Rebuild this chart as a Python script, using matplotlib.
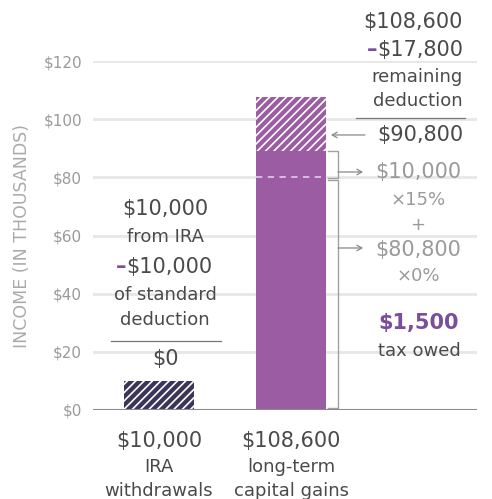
import matplotlib
matplotlib.use("Agg")
import matplotlib.pyplot as plt

# -------------------------------
# Data (values in thousands of dollars, bar heights)
# -------------------------------
categories = ["IRA withdrawals", "long-term capital gains"]
bar_labels = [["$10,000", "IRA", "withdrawals"],
              ["$108,600", "long-term", "capital gains"]]
ira_income = 10.0
gains_total = 107.6
gains_taxable = 89.2
bracket_15 = 80.0
yticks = [0, 20, 40, 60, 80, 100, 120]
ytick_labels = ["$0", "$20", "$40", "$60", "$80", "$100", "$120"]

# colours
NAVY = "#3b3659"
PURPLE = "#9b5ca4"
ACCENT = "#7b4d9c"
DARK = "#4a4a4a"
LIGHT = "#9a9a9a"
GRID = "#e8e6e6"

plt.rcParams["font.family"] = ["DejaVu Sans"]
plt.rcParams["hatch.linewidth"] = 1.2

fig = plt.figure(figsize=(4.92, 4.99), dpi=100)
# axes placed so that y=0 sits at 410px and y=120 at 61px from top
ax = fig.add_axes([93 / 492, 89 / 499, 384 / 492, 349 / 499])
ax.set_xlim(-0.5, 2.409)
ax.set_ylim(0, 120)


def px(x):
    # pixel column -> data x
    return (x - 159) / 132.0


def py(y):
    # pixel row -> data y
    return (410 - y) / 2.908


# -------------------------------
# Grid and axes styling
# -------------------------------
for t in yticks[1:]:
    ax.axhline(t, color=GRID, lw=2, zorder=0)
ax.axhline(0, color="#8a8a8a", lw=1.5, zorder=3)
for s in ax.spines.values():
    s.set_visible(False)
ax.set_xticks([])
ax.set_yticks(yticks)
ax.set_yticklabels(ytick_labels, color=LIGHT, fontsize=11)
ax.tick_params(axis="y", length=0, pad=8)
ax.text(px(22), py(236), "INCOME (IN THOUSANDS)", rotation=90, ha="center",
        va="center", color="#ababab", fontsize=12.5, clip_on=False)

# -------------------------------
# Bars
# -------------------------------
w = 70 / 132.0
ax.bar(0, ira_income, width=w, color=NAVY, edgecolor="white", hatch="////",
       linewidth=0, zorder=2)
ax.bar(1, gains_taxable, width=w, color=PURPLE, linewidth=0, zorder=2)
ax.bar(1, gains_total - gains_taxable, bottom=gains_taxable, width=w,
       color=PURPLE, edgecolor="white", hatch="////", linewidth=0, zorder=2)
ax.plot([1 - w / 2, 1 + w / 2], [bracket_15, bracket_15], color="#dcc6e2",
        lw=1.3, ls=(0, (3.5, 3)), zorder=4)

# category labels under the bars
for i, lines in enumerate(bar_labels):
    ax.text(i, py(441), lines[0], ha="center", va="center", color=DARK,
            fontsize=15, clip_on=False)
    ax.text(i, py(467), lines[1], ha="center", va="center", color=DARK,
            fontsize=13, clip_on=False)
    ax.text(i, py(491), lines[2], ha="center", va="center", color=DARK,
            fontsize=13, clip_on=False)

# -------------------------------
# Left annotation (IRA)
# -------------------------------
lx = px(165)
ax.text(lx, py(209), "$10,000", ha="center", va="center", color=DARK, fontsize=15)
ax.text(lx, py(237), "from IRA", ha="center", va="center", color=DARK, fontsize=13)
t = ax.text(px(169), py(267), "$10,000", ha="center", va="center", color=DARK,
            fontsize=15)
ax.annotate("–", xy=(0, 0.5), xycoords=t, ha="right", va="center",
            color=ACCENT, fontsize=15, fontweight="bold")
ax.text(lx, py(295), "of standard", ha="center", va="center", color=DARK, fontsize=13)
ax.text(lx, py(320), "deduction", ha="center", va="center", color=DARK, fontsize=13)
ax.plot([px(111), px(221)], [py(341), py(341)], color="#777777", lw=0.9)
ax.text(lx, py(359), "$0", ha="center", va="center", color=DARK, fontsize=15)

# -------------------------------
# Right annotation (capital gains)
# -------------------------------
rx = px(463)
ax.text(rx, py(22), "$108,600", ha="right", va="center", color=DARK,
        fontsize=15, clip_on=False)
t = ax.text(rx, py(50), "$17,800", ha="right", va="center", color=DARK,
            fontsize=15, clip_on=False)
ax.annotate("–", xy=(0, 0.5), xycoords=t, ha="right", va="center",
            color=ACCENT, fontsize=15, fontweight="bold")
ax.text(rx, py(77), "remaining", ha="right", va="center", color=DARK,
        fontsize=13, clip_on=False)
ax.text(rx, py(101), "deduction", ha="right", va="center", color=DARK,
        fontsize=13, clip_on=False)
ax.plot([px(356), px(465)], [py(118), py(118)], color="#777777", lw=0.9)
ax.text(rx, py(135), "$90,800", ha="right", va="center", color=DARK, fontsize=15)
arrow = dict(arrowstyle="->,head_length=0.35,head_width=0.2", color="#888888",
             lw=0.9, shrinkA=0, shrinkB=0)
ax.annotate("", xy=(px(331), py(135)), xytext=(px(365), py(135)),
            arrowprops=arrow)

# brackets
bx = px(338)
tick = px(328)
ax.plot([tick, bx, bx, tick], [gains_taxable, gains_taxable, bracket_15 - 0.2,
        bracket_15 - 0.2], color="#a0a0a0", lw=1)
ax.plot([tick, bx, bx, tick], [bracket_15 - 1.0, bracket_15 - 1.0, 0.6, 0.6],
        color="#a0a0a0", lw=1)
ax.annotate("", xy=(px(363), py(172)), xytext=(bx, py(172)), arrowprops=arrow)
ax.annotate("", xy=(px(363), py(248)), xytext=(bx, py(248)), arrowprops=arrow)

cx = px(418)
ax.text(cx, py(172), "$10,000", ha="center", va="center", color=LIGHT, fontsize=15)
ax.text(cx, py(200), "×15%", ha="center", va="center", color=LIGHT, fontsize=13)
ax.text(cx, py(225), "+", ha="center", va="center", color=LIGHT, fontsize=13)
ax.text(cx, py(250), "$80,800", ha="center", va="center", color=LIGHT, fontsize=15)
ax.text(cx, py(276), "×0%", ha="center", va="center", color=LIGHT, fontsize=13)
ax.text(px(419), py(323), "$1,500", ha="center", va="center", color=ACCENT,
        fontsize=15, fontweight="bold")
ax.text(px(419), py(351), "tax owed", ha="center", va="center", color=DARK,
        fontsize=13)

fig.savefig("out.png", dpi=100)
